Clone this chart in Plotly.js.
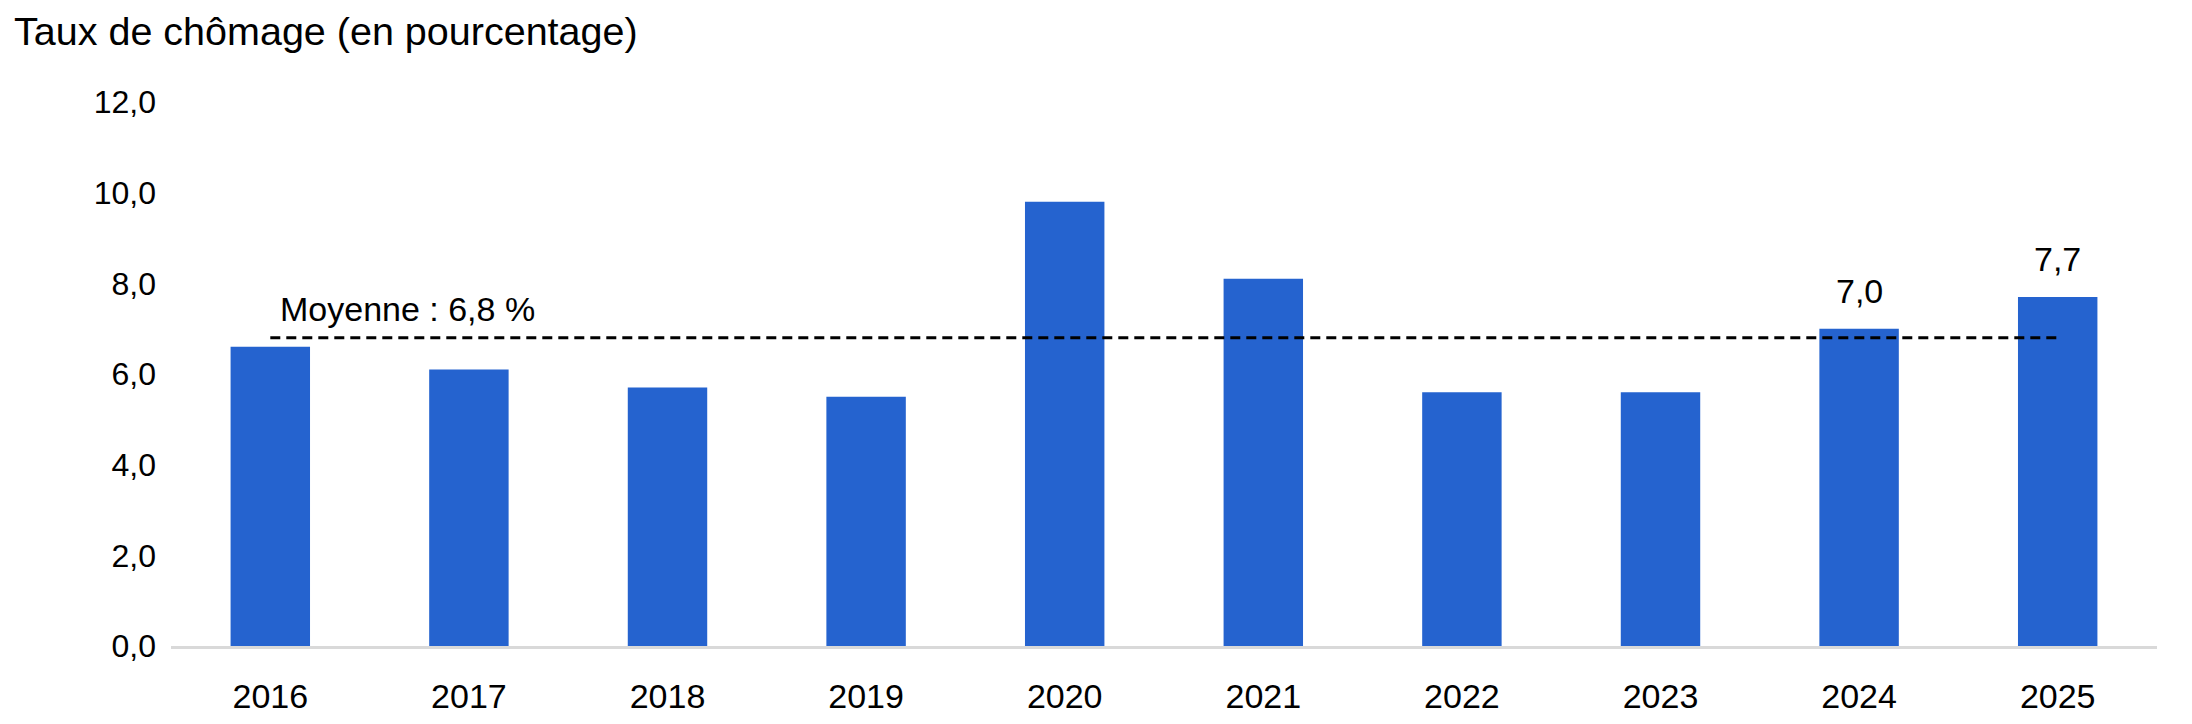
<!DOCTYPE html>
<html>
<head>
<meta charset="utf-8">
<script src="https://cdn.plot.ly/plotly-3.0.1.min.js"></script>
<style>
html,body{margin:0;padding:0;background:#fff;}
#chart{width:2192px;height:724px;}
</style>
</head>
<body>
<div id="chart"></div>
<script>
const years = ["2016","2017","2018","2019","2020","2021","2022","2023","2024","2025"];
const unemployment = [6.6, 6.1, 5.7, 5.5, 9.8, 8.1, 5.6, 5.6, 7.0, 7.7];
const meanValue = 6.8;
const labelledYears = ["2024","2025"];
const titleText = "Taux de chômage (en pourcentage)";
const meanLabel = "Moyenne : 6,8 %";
const yTicks = [0, 2, 4, 6, 8, 10, 12];

const font = "Liberation Sans, Arial, sans-serif";

const bars = {
  type: "bar",
  x: years,
  y: unemployment,
  width: 0.4,
  marker: {color: "#2563CF"},
  hoverinfo: "x+y",
  showlegend: false
};

const meanLine = {
  type: "scatter",
  mode: "lines",
  x: [years[0], years[years.length - 1]],
  y: [meanValue, meanValue],
  line: {color: "#000000", width: 3, dash: "10px,6px"},
  hoverinfo: "skip",
  showlegend: false
};

const annotations = labelledYears.map(function (yr) {
  const i = years.indexOf(yr);
  const v = unemployment[i];
  return {
    x: i, y: v, xref: "x", yref: "y",
    text: v.toFixed(1).replace(".", ","),
    showarrow: false, yanchor: "bottom", yshift: 17,
    font: {family: font, size: 34, color: "#000"}
  };
});
annotations.push({
  x: 0, y: meanValue, xref: "x", yref: "y",
  text: meanLabel, showarrow: false,
  xanchor: "left", yanchor: "bottom", xshift: 8, yshift: 8,
  font: {family: font, size: 34, color: "#000"}
});

const layout = {
  width: 2192, height: 724,
  margin: {l: 171, r: 35, t: 102, b: 78},
  paper_bgcolor: "#fff", plot_bgcolor: "#fff",
  separators: ", ",
  font: {family: font, size: 32, color: "#000"},
  title: {
    text: titleText,
    xref: "container", yref: "container",
    x: 14 / 2192, xanchor: "left",
    y: 1 - 31 / 724, yanchor: "middle",
    font: {family: font, size: 39.5, color: "#000"}
  },
  xaxis: {
    type: "category",
    categoryorder: "array", categoryarray: years,
    range: [-0.5, years.length - 0.5],
    autorange: false,
    showgrid: false, zeroline: false,
    showline: true, linecolor: "#D9D9D9", linewidth: 3,
    ticks: "", ticklen: 0,
    tickfont: {family: font, size: 34, color: "#000"},
    ticklabelstandoff: 18
  },
  yaxis: {
    range: [0, 12],
    autorange: false,
    tickvals: yTicks,
    tickformat: ".1f",
    showgrid: false, zeroline: false, showline: false,
    ticks: "",
    tickfont: {family: font, size: 32, color: "#000"},
    ticklabelstandoff: 14
  },
  annotations: annotations,
  bargap: 0.6
};

Plotly.newPlot("chart", [bars, meanLine], layout, {displayModeBar: false, staticPlot: true});
</script>
</body>
</html>
